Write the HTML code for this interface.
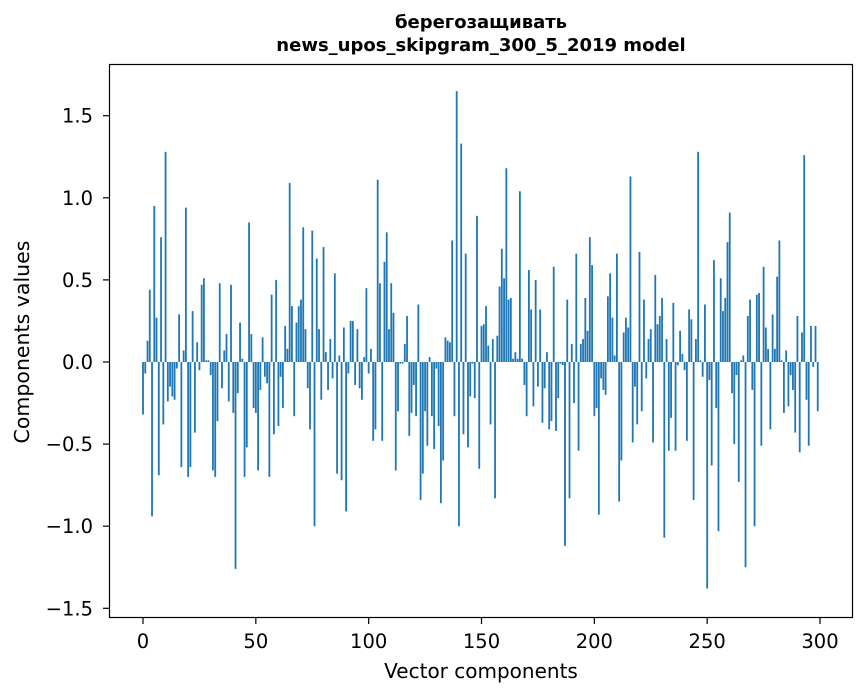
<!DOCTYPE html>
<html><head><meta charset="utf-8"><style>
body{margin:0;background:#fff;}
svg{display:block;font-family:"DejaVu Sans","Liberation Sans",sans-serif;}
</style></head><body>
<svg id="chart" width="867" height="696">
<text x="481" y="28" text-anchor="middle" font-size="18" font-weight="bold">берегозащивать</text>
<text x="481" y="51" text-anchor="middle" font-size="18" font-weight="bold">news_upos_skipgram_300_5_2019 model</text>
<g id="bars"></g>
<g id="axes"></g>
<rect x="109.5" y="64.5" width="743" height="553" fill="none" stroke="#000" stroke-width="1.2"/>
<text x="481" y="678" text-anchor="middle" font-size="20">Vector components</text>
<text transform="translate(29,342) rotate(-90)" text-anchor="middle" font-size="20.5">Components values</text>
</svg>
<script>
const values = [
-0.32,-0.07,0.13,0.44,-0.94,0.95,0.27,-0.69,0.76,-0.38,
1.28,-0.24,-0.15,-0.21,-0.23,-0.04,0.29,-0.64,0.07,0.94,
-0.70,-0.64,0.31,-0.43,0.12,-0.05,0.47,0.51,0.01,0.01,
-0.08,-0.66,-0.70,-0.36,0.48,-0.16,0.07,0.17,-0.24,0.47,
-0.31,-1.26,-0.19,0.24,0.02,-0.70,-0.52,0.85,0.17,-0.28,
-0.31,-0.66,-0.17,0.15,-0.09,-0.13,-0.70,0.41,-0.44,0.50,
-0.39,-0.09,-0.28,0.22,0.08,1.09,0.34,-0.33,0.24,0.34,
0.38,0.82,0.20,-0.16,-0.41,0.80,-1.00,0.63,0.20,-0.23,
0.70,0.06,-0.17,0.14,-0.10,0.54,-0.68,0.04,-0.72,0.21,
-0.91,-0.07,0.25,0.25,-0.14,0.20,-0.16,-0.23,0.03,0.45,
-0.07,0.08,-0.48,-0.41,1.11,0.48,-0.48,0.61,0.79,0.20,
0.48,0.30,-0.66,-0.30,-0.01,-0.01,0.11,0.28,-0.45,-0.31,
-0.14,-0.33,0.35,-0.84,-0.68,-0.30,-0.51,0.03,-0.33,-0.53,
-0.04,-0.39,-0.86,-0.60,0.15,0.13,0.12,0.74,-0.33,1.65,
-1.00,1.33,-0.44,0.66,-0.52,-0.21,-0.01,-0.22,0.89,-0.65,
0.22,0.23,0.34,0.10,-0.38,0.14,-0.83,0.16,0.46,0.69,
0.51,1.18,0.38,0.39,0.02,0.06,0.02,1.04,0.02,-0.14,
-0.33,0.56,0.32,-0.27,0.50,-0.15,0.32,-0.37,-0.16,0.06,
-0.41,-0.36,0.58,-0.42,-0.22,-0.01,-0.02,-1.12,0.38,-0.83,
0.11,-0.25,0.66,-0.54,0.11,0.14,0.39,0.19,0.76,0.59,
-0.33,-0.28,-0.93,-0.10,-0.17,-0.20,0.40,0.54,0.27,0.04,
0.66,-0.85,-0.60,0.18,0.27,0.21,1.13,-0.49,-0.15,-0.38,
0.67,-0.30,0.38,-0.10,0.14,0.20,-0.49,0.53,0.23,0.28,
0.39,-1.07,0.14,-0.54,-0.34,0.36,-0.54,-0.02,0.19,0.05,
-0.05,-0.48,0.32,0.26,-0.84,0.14,1.28,0.01,-0.09,0.35,
-1.38,-0.11,-0.63,0.62,-0.28,-1.03,0.51,0.31,0.39,0.73,
0.91,-0.19,-0.50,-0.08,-0.73,0.01,0.04,-1.25,0.28,0.38,
-0.17,-1.00,0.41,0.42,-0.51,0.58,0.21,0.08,-0.41,0.29,
0.08,0.52,0.74,0.01,-0.31,0.07,-0.27,-0.08,-0.17,-0.43,
0.28,-0.55,0.18,1.26,-0.23,-0.51,0.22,-0.03,0.22,-0.30
];
const xTicks = [0,50,100,150,200,250,300];
const yTicks = [-1.5,-1.0,-0.5,0.0,0.5,1.0,1.5];
const yTickLabels = ["−1.5","−1.0","−0.5","0.0","0.5","1.0","1.5"];

const NS = "http://www.w3.org/2000/svg";
function xScale(i){ return 143 + i * 2.2567; }
function yScale(v){ return 362 - v * 164.2; }
const bars = document.getElementById('bars');
values.forEach((v, i) => {
  const r = document.createElementNS(NS, 'rect');
  const x0 = xScale(i - 0.4), x1 = xScale(i + 0.4);
  const y0 = yScale(Math.max(v, 0)), y1 = yScale(Math.min(v, 0));
  r.setAttribute('x', x0); r.setAttribute('width', x1 - x0);
  r.setAttribute('y', y0); r.setAttribute('height', Math.max(y1 - y0, 0.3));
  r.setAttribute('fill', '#1f77b4');
  
  
  bars.appendChild(r);
});
const axes = document.getElementById('axes');
xTicks.forEach(t => {
  const x = xScale(t);
  const l = document.createElementNS(NS, 'line');
  l.setAttribute('x1', x); l.setAttribute('x2', x);
  l.setAttribute('y1', 617); l.setAttribute('y2', 624);
  l.setAttribute('stroke', '#000'); l.setAttribute('stroke-width', '1.2');
  
  
  axes.appendChild(l);
  const tx = document.createElementNS(NS, 'text');
  tx.setAttribute('x', x); tx.setAttribute('y', 648);
  tx.setAttribute('text-anchor', 'middle'); tx.setAttribute('font-size', '19.5');
  tx.textContent = t;
  
  
  axes.appendChild(tx);
});
yTicks.forEach((t, k) => {
  const y = yScale(t);
  const l = document.createElementNS(NS, 'line');
  l.setAttribute('x1', 103); l.setAttribute('x2', 110);
  l.setAttribute('y1', y); l.setAttribute('y2', y);
  l.setAttribute('stroke', '#000'); l.setAttribute('stroke-width', '1.2');
  
  
  axes.appendChild(l);
  const tx = document.createElementNS(NS, 'text');
  tx.setAttribute('x', 93); tx.setAttribute('y', y + 7);
  tx.setAttribute('text-anchor', 'end'); tx.setAttribute('font-size', '19.5');
  tx.textContent = yTickLabels[k];
  
  
  axes.appendChild(tx);
});
</script>
</body></html>
